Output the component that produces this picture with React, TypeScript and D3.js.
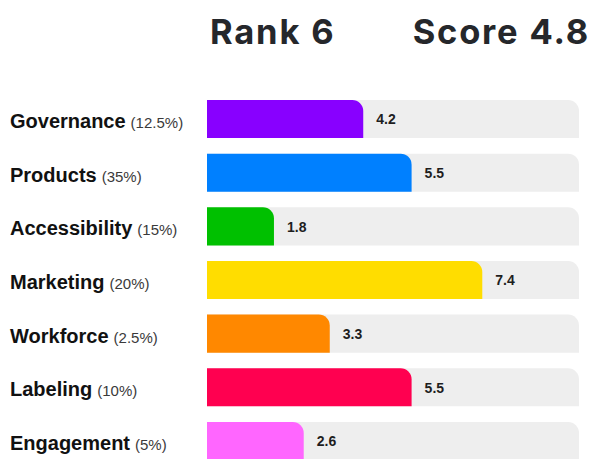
import React from "react";
import * as d3 from "d3";

const categories = ["Governance", "Products", "Accessibility", "Marketing", "Workforce", "Labeling", "Engagement"];
const weights = ["12.5%", "35%", "15%", "20%", "2.5%", "10%", "5%"];
const scores = [4.2, 5.5, 1.8, 7.4, 3.3, 5.5, 2.6];
const colors = ["#8800ff", "#0080ff", "#00c000", "#ffdd00", "#ff8800", "#ff0050", "#ff66ff"];
const rankLabel = "Rank 6";
const scoreLabel = "Score 4.8";
const maxScore = 10;

const W = 590;
const H = 459;
const FONT = "'Liberation Sans', Arial, Helvetica, sans-serif";
const TITLE_FONT = "Inter, 'Liberation Sans', Arial, sans-serif";

function topRightRounded(x: number, y: number, w: number, h: number, r: number) {
  const rr = Math.max(0, Math.min(r, w, h));
  const p = d3.path();
  p.moveTo(x, y);
  p.lineTo(x + w - rr, y);
  p.arcTo(x + w, y, x + w, y + rr, rr);
  p.lineTo(x + w, y + h);
  p.lineTo(x, y + h);
  p.closePath();
  return p.toString();
}

export default function App() {
  const x = d3.scaleLinear().domain([0, maxScore]).range([207, 579]);
  const y = d3.scaleBand<string>().domain(categories).range([100, 460]).paddingInner(0.29).paddingOuter(0);
  const bh = y.bandwidth();

  return (
    <svg
      width={W}
      height={H}
      style={{ position: "absolute", left: 0, top: 0, background: "#ffffff" }}
      fontFamily={FONT}
    >
      <text x={210} y={44} fontSize={34.5} fontWeight={700} fill="#25272b" fontFamily={TITLE_FONT} letterSpacing={1.8}>
        {rankLabel}
      </text>
      <text x={590} y={44} fontSize={34.5} fontWeight={700} fill="#25272b" textAnchor="end" fontFamily={TITLE_FONT} letterSpacing={1.8}>
        {scoreLabel}
      </text>
      {categories.map((c, i) => {
        const y0 = y(c) as number;
        const xe = x(scores[i]);
        return (
          <g key={c}>
            <path d={topRightRounded(x(0), y0, x(maxScore) - x(0), bh, 11)} fill="#eeeeee" />
            <path d={topRightRounded(x(0), y0, xe - x(0), bh, 11)} fill={colors[i]} />
            <text x={xe + 13} y={y0 + 24.3} fontSize={14} fontWeight={700} fill="#1e1e1e">
              {scores[i].toFixed(1)}
            </text>
            <text x={10} y={y0 + 28} fill="#111111">
              <tspan fontSize={20} fontWeight={700}>{c}</tspan>
              <tspan fontSize={15} fill="#3a3a3a" dx={5}>({weights[i]})</tspan>
            </text>
          </g>
        );
      })}
    </svg>
  );
}
